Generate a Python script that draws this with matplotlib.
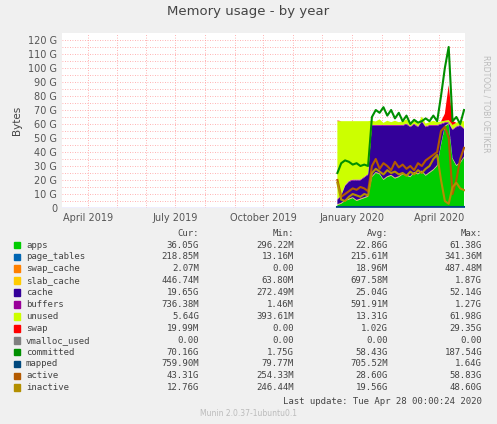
import matplotlib
matplotlib.use("Agg")
import matplotlib.pyplot as plt
import matplotlib.dates as mdates
import numpy as np
import datetime as dt

# sample dates, every 4 days from Dec 17 2019
dates = [dt.datetime(2019, 12, 17) + dt.timedelta(days=4 * i) for i in range(34)]

apps = [2, 3, 5, 6, 7, 5, 6, 7, 8,
        22, 25, 24, 20, 22, 23, 21, 22, 24, 23, 22, 25, 24, 26, 23, 25, 27, 30, 45, 58, 60, 35, 30, 32, 36]
page_tables = [0.2] * 34
swap_cache = [0.02] * 34
slab_cache = [0.5] * 34
cache = [3, 5, 10, 12, 12, 14, 13, 14, 15,
         36, 33, 34, 38, 36, 35, 37, 36, 34, 36, 35, 34, 33, 35, 34, 33, 31, 28, 14, 2, 0, 20, 27, 26, 19.6]
buffers = [0.6] * 34
unused = [55.7, 52.7, 45.7, 42.7, 41.7, 41.7, 41.7, 39.7, 37.7,
          3, 2.5, 4, 1.5, 3, 2, 3, 2, 2.5, 3, 2, 3, 2, 3, 2, 2, 3, 2, 1.5, 1, 1.5, 3, 2.5, 3, 5]
swap = [0.5] + [0] * 27 + [5, 25, 3, 0, 0, 0.02]
committed = [25, 32, 34, 33, 31, 32, 30, 31, 30,
             65, 70, 68, 72, 66, 70, 64, 68, 62, 66, 60, 63, 61, 62, 64, 62, 66, 62, 80, 100, 115, 62, 65, 60, 70]
mapped = [0.7] * 34
active = [20, 8, 10, 12, 14, 13, 15, 14, 12,
          30, 35, 28, 32, 30, 27, 33, 29, 31, 28, 30, 27, 32, 30, 34, 36, 38, 40, 55, 58, 50, 10, 20, 35, 43]
inactive = [18, 6, 5, 8, 10, 9, 8, 10, 9,
            25, 28, 26, 24, 27, 25, 26, 24, 25, 23, 26, 24, 27, 25, 28, 30, 35, 38, 20, 5, 3, 15, 18, 14, 12.76]

names = ["apps", "page_tables", "swap_cache", "slab_cache", "cache", "buffers", "unused",
         "swap", "vmalloc_used", "committed", "mapped", "active", "inactive"]
colors = ["#00CC00", "#0066B3", "#FF8000", "#FFCC00", "#330099", "#990099", "#CCFF00",
          "#FF0000", "#808080", "#008F00", "#00487D", "#B35A00", "#B38F00"]
cur = ["36.05G", "218.85M", "2.07M", "446.74M", "19.65G", "736.38M", "5.64G", "19.99M", "0.00",
       "70.16G", "759.90M", "43.31G", "12.76G"]
mins = ["296.22M", "13.16M", "0.00", "63.80M", "272.49M", "1.46M", "393.61M", "0.00", "0.00",
        "1.75G", "79.77M", "254.33M", "246.44M"]
avgs = ["22.86G", "215.61M", "18.96M", "697.58M", "25.04G", "591.91M", "13.31G", "1.02G", "0.00",
        "58.43G", "705.52M", "28.60G", "19.56G"]
maxs = ["61.38G", "341.36M", "487.48M", "1.87G", "52.14G", "1.27G", "61.98G", "29.35G", "0.00",
        "187.54G", "1.64G", "58.83G", "48.60G"]

fig = plt.figure(figsize=(4.97, 4.24), dpi=100, facecolor="#F0F0F0")
ax = fig.add_axes([62 / 497, 1 - 208 / 424, 403 / 497, 175 / 424])
ax.set_facecolor("white")

stack = [apps, page_tables, swap_cache, slab_cache, cache, buffers, unused, swap]
ax.stackplot(dates, *stack, colors=colors[:8], linewidth=0)
ax.plot(dates, committed, color=colors[9], lw=1.5)
ax.plot(dates, mapped, color=colors[10], lw=1.5)
ax.plot(dates, active, color=colors[11], lw=1.5)
ax.plot(dates, inactive, color=colors[12], lw=1.5)

ax.set_xlim(dt.datetime(2019, 3, 5), dt.datetime(2020, 4, 28))
ax.set_ylim(0, 125)
ax.set_yticks(np.arange(0, 121, 10))
ax.set_yticklabels(["0"] + ["%d G" % v for v in range(10, 121, 10)])
ax.set_yticks(np.arange(0, 125, 5), minor=True)
ax.xaxis.set_major_locator(mdates.MonthLocator(bymonth=[1, 4, 7, 10]))
ax.xaxis.set_major_formatter(mdates.DateFormatter("%B %Y"))
ax.xaxis.set_minor_locator(mdates.MonthLocator())
ax.grid(True, which="both", color="#FF9999", ls=(0, (1, 2)), lw=0.6)
ax.set_axisbelow(True)
ax.tick_params(labelsize=7, colors="#555555", length=0, which="both")
for s in ax.spines.values():
    s.set_visible(False)
ax.axhline(0, color="#AAAAFF", lw=1)
ax.set_ylabel("Bytes", fontsize=7.5, color="#444444")

fig.text(0.5, 0.965, "Memory usage - by year", ha="center", fontsize=9.5, color="#444444")
fig.text(0.978, 0.87, "RRDTOOL / TOBI OETIKER", rotation=270, fontsize=5.5, color="#BBBBBB",
         va="top", ha="center")

mono = "DejaVu Sans Mono"
fs = 6.5
def fy(py):
    return 1 - py / 424
for hx, h in [(199, "Cur:"), (294, "Min:"), (388, "Avg:"), (482, "Max:")]:
    fig.text(hx / 497, fy(233), h, ha="right", va="center", fontsize=fs, family=mono, color="#444444")
for i, n in enumerate(names):
    y = fy(245 + 11.9 * i)
    fig.patches.append(plt.Rectangle((14 / 497, y - 0.008), 6 / 497, 0.016, color=colors[i],
                                     transform=fig.transFigure))
    fig.text(26 / 497, y, n, va="center", fontsize=fs, family=mono, color="#444444")
    for hx, v in [(199, cur[i]), (294, mins[i]), (388, avgs[i]), (482, maxs[i])]:
        fig.text(hx / 497, y, v, ha="right", va="center", fontsize=fs, family=mono, color="#444444")
fig.text(482 / 497, fy(401), "Last update: Tue Apr 28 00:00:24 2020", ha="right", va="center",
         fontsize=fs, family=mono, color="#444444")
fig.text(0.5, fy(413), "Munin 2.0.37-1ubuntu0.1", ha="center", va="center", fontsize=5.5, color="#BBBBBB")

fig.savefig("out.png", dpi=100, facecolor=fig.get_facecolor())
